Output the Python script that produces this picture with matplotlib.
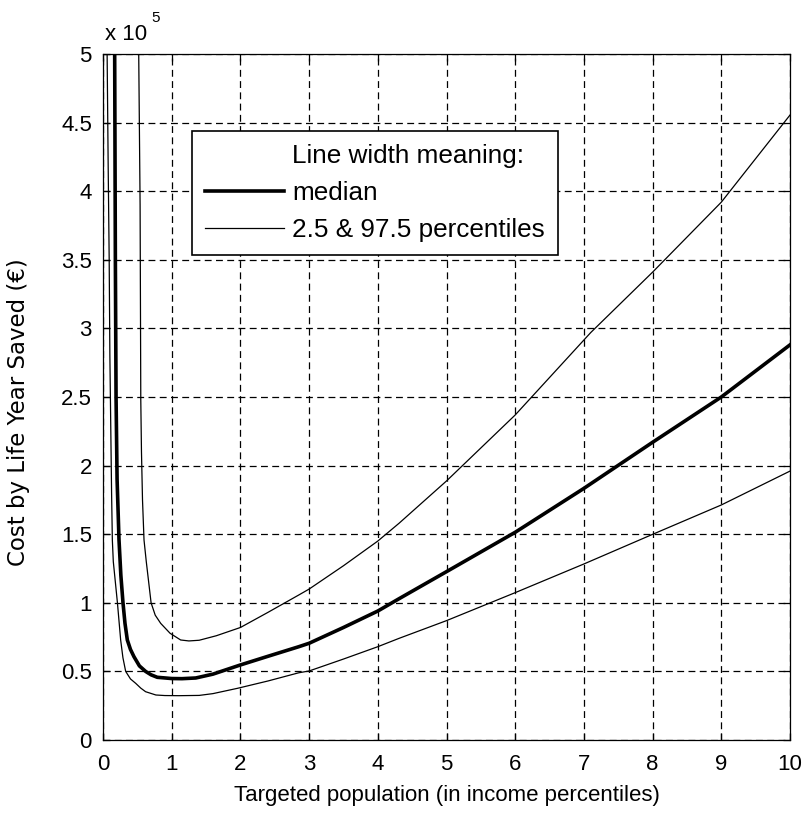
import matplotlib
matplotlib.use('Agg')
import matplotlib.pyplot as plt
from matplotlib.lines import Line2D

plt.rcParams['font.family'] = ['Liberation Sans', 'DejaVu Sans']

# Values, y in units of 1e5 euros.
median_x = [0.17, 0.18, 0.19, 0.205, 0.233, 0.26, 0.291, 0.32, 0.354, 0.40, 0.451,
            0.53, 0.62, 0.70, 0.79, 1.0, 1.15, 1.35, 1.6, 2.0, 2.4, 2.85, 3.0, 3.5,
            4.0, 4.31, 5.0, 6.0, 7.0, 8.0, 9.0, 10.0]
median_y = [5.0, 3.5, 2.5, 1.9, 1.458, 1.2, 1.0, 0.85, 0.729, 0.66, 0.607,
            0.54, 0.50, 0.475, 0.457, 0.448, 0.447, 0.452, 0.48, 0.547, 0.61, 0.68, 0.705, 0.82,
            0.94, 1.03, 1.227, 1.514, 1.834, 2.17, 2.50, 2.88]

lower_x = [0.06, 0.075, 0.09, 0.10, 0.115, 0.125, 0.136, 0.15, 0.17, 0.21, 0.257,
           0.29, 0.33, 0.40, 0.476, 0.55, 0.62, 0.77, 0.9, 1.1, 1.4, 1.6, 1.96,
           2.4, 2.85, 3.0, 3.5, 4.0, 4.31, 5.0, 6.0, 7.0, 8.0, 9.0, 10.0]
lower_y = [5.0, 4.2, 3.5, 2.8, 2.2, 1.8, 1.458, 1.3, 1.2, 1.0, 0.729,
           0.6, 0.50, 0.445, 0.413, 0.378, 0.352, 0.328, 0.324, 0.323, 0.325, 0.338, 0.377,
           0.43, 0.49, 0.503, 0.59, 0.68, 0.741, 0.87, 1.074, 1.283, 1.499, 1.713, 1.96]

upper_x = [0.52, 0.54, 0.545, 0.55, 0.56, 0.575, 0.597, 0.63, 0.70, 0.76, 0.84,
           0.976, 1.13, 1.25, 1.40, 1.65, 2.0, 2.4, 2.85, 3.0, 3.5, 4.0, 4.31,
           5.0, 6.0, 7.1, 8.0, 9.0, 10.0]
upper_y = [5.0, 3.9, 3.2, 2.48, 2.1, 1.75, 1.458, 1.3, 1.0, 0.91, 0.85,
           0.778, 0.729, 0.722, 0.727, 0.76, 0.82, 0.93, 1.057, 1.10, 1.27, 1.45, 1.58,
           1.888, 2.369, 2.97, 3.41, 3.92, 4.555]

x_ticks = [0, 1, 2, 3, 4, 5, 6, 7, 8, 9, 10]
y_ticks = [0, 0.5, 1, 1.5, 2, 2.5, 3, 3.5, 4, 4.5, 5]
y_tick_labels = ['0', '0.5', '1', '1.5', '2', '2.5', '3', '3.5', '4', '4.5', '5']

FS = 16
THICK = 2.6
THIN = 0.9

fig = plt.figure(figsize=(8.05, 8.16), dpi=100)
# axes box in pixels: x 103..790, y 54..740
ax = fig.add_axes([103 / 805, 1 - 740 / 816, 687 / 805, 686 / 816])

ax.plot(median_x, median_y, color='black', lw=THICK, solid_joinstyle='round')
ax.plot(lower_x, lower_y, color='black', lw=THIN)
ax.plot(upper_x, upper_y, color='black', lw=THIN)

ax.set_xlim(0, 10)
ax.set_ylim(0, 5)
ax.set_xticks(x_ticks)
ax.set_yticks(y_ticks)
ax.set_yticklabels(y_tick_labels)
ax.grid(True, color='black', linestyle=(0, (5.5, 3.5)), lw=THIN)
ax.tick_params(direction='in', top=True, right=True, length=5, width=THIN,
               labelsize=FS)
ax.tick_params(axis='x', pad=10)
ax.tick_params(axis='y', pad=8)
for s in ax.spines.values():
    s.set_linewidth(THIN)

ax.set_xlabel('Targeted population (in income percentiles)', fontsize=FS)
ax.xaxis.set_label_coords(0.5, -0.066)
ax.xaxis.label.set_va('top')
# rotated label: the reference text is long and thin, so a wider face is used
ax.set_ylabel('Cost by Life Year Saved (€)', fontsize=16.5,
              family=['DejaVu Sans'])
ax.yaxis.set_label_coords(-0.106, 0.478)

ax.text(0.003, 1.0204, 'x 10', transform=ax.transAxes, fontsize=FS,
        ha='left', va='baseline')
ax.text(0.07, 1.0466, '5', transform=ax.transAxes, fontsize=11,
        ha='left', va='baseline')

handles = [Line2D([], [], color='none'),
           Line2D([], [], color='black', lw=THICK),
           Line2D([], [], color='black', lw=THIN)]
labels = ['Line width meaning:', 'median', '2.5 & 97.5 percentiles']
leg = ax.legend(handles, labels, loc='upper left', bbox_to_anchor=(0.129, 0.888),
                fontsize=18.8, fancybox=False, framealpha=1,
                edgecolor='black', handlelength=3.05, handletextpad=0.3,
                borderpad=0.5, labelspacing=0.5, borderaxespad=0)
leg.get_frame().set_linewidth(1.2)

fig.savefig('out.png', dpi=100, facecolor='white')
